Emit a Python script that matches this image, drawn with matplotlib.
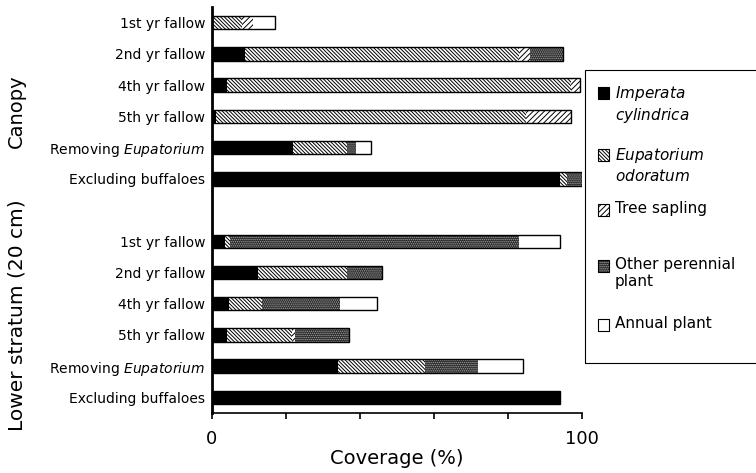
import matplotlib
matplotlib.use('Agg')
import matplotlib.pyplot as plt
from matplotlib.patches import Rectangle
import numpy as np

plt.rcParams['font.family'] = ['DejaVu Sans']
plt.rcParams['hatch.linewidth'] = 0.7

categories = ['1st yr fallow', '2nd yr fallow', '4th yr fallow', '5th yr fallow',
              'Removing $\\it{Eupatorium}$', 'Excluding buffaloes']

# canopy layer (% coverage)
imperata_c = [0, 9, 4, 1, 22, 94]
eupat_c = [8, 74, 93, 84, 14.5, 2]
tree_c = [3, 3, 2.5, 12, 0, 0]
other_c = [0, 9, 0, 0, 2.5, 4]
annual_c = [6, 0, 0, 0, 4, 0]

# lower stratum (20 cm)
imperata_l = [3.5, 12.5, 4.5, 4, 34, 94]
eupat_l = [1.5, 24, 9, 17.5, 23.5, 0]
tree_l = [0, 0, 0, 1, 0, 0]
other_l = [78, 9.5, 21, 14.5, 14.5, 0]
annual_l = [11, 0, 10, 0, 12, 0]

legend_labels = ['$\\it{Imperata}$\n$\\it{cylindrica}$', '$\\it{Eupatorium}$\n$\\it{odoratum}$',
                 'Tree sapling', 'Other perennial\nplant', 'Annual plant']

# (facecolor, hatch, hatch colour)
styles = [('black', None, 'black'),
          ('white', '\\' * 9, 'black'),
          ('white', '/' * 6, 'black'),
          ('0.15', '.' * 8, '0.65'),
          ('white', None, 'black')]

fig = plt.figure(figsize=(7.56, 4.73), dpi=100)
ax = fig.add_axes([0.2804, 0.127, 0.4894, 0.858])

pos_c = np.arange(0, 6)
pos_l = np.arange(7, 13)
h = 0.43

for pos, series in [(pos_c, [imperata_c, eupat_c, tree_c, other_c, annual_c]),
                    (pos_l, [imperata_l, eupat_l, tree_l, other_l, annual_l])]:
    left = np.zeros(6)
    for vals, (fc, hatch, hc) in zip(series, styles):
        vals = np.array(vals, dtype=float)
        ax.barh(pos, vals, left=left, height=h, color=fc, hatch=hatch,
                edgecolor=hc, linewidth=0)
        left = left + vals
    ax.barh(pos, left, height=h, fill=False, edgecolor='black', linewidth=1.0)

ax.set_xlim(0, 100)
ax.set_ylim(12.5, -0.5)
ax.set_yticks(list(pos_c) + list(pos_l))
ax.set_yticklabels(categories + categories, fontsize=10)
ax.tick_params(axis='y', length=0, pad=5)
ax.set_xticks(np.arange(0, 120, 20))
ax.set_xticklabels(['0', '', '', '', '', '100'], fontsize=13)
ax.tick_params(axis='x', direction='out', length=4, width=1.2, pad=8)
ax.spines['top'].set_visible(False)
ax.spines['right'].set_visible(False)
ax.spines['left'].set_linewidth(2)
ax.spines['bottom'].set_linewidth(1.2)
ax.set_xlabel('Coverage (%)', fontsize=14, labelpad=1)

fig.text(0.022, 0.765, 'Canopy', rotation=90, fontsize=14, ha='center', va='center')
fig.text(0.022, 0.334, 'Lower stratum (20 cm)', rotation=90, fontsize=14.5, ha='center', va='center')

# legend box drawn by hand so the swatches sit on the first text line
fig.add_artist(Rectangle((585 / 756, 1 - 363 / 473), 0.3, (363 - 70) / 473,
                         transform=fig.transFigure, fill=False, edgecolor='black',
                         linewidth=0.8, clip_on=False))
entry_y = [93, 155, 210, 266, 325]
for yy, lab, (fc, hatch, hc) in zip(entry_y, legend_labels, styles):
    yf = 1 - yy / 473
    fig.add_artist(Rectangle((598 / 756, yf - 6 / 473), 11 / 756, 12 / 473,
                             transform=fig.transFigure, facecolor=fc, hatch=hatch,
                             edgecolor=hc, linewidth=0))
    fig.add_artist(Rectangle((598 / 756, yf - 6 / 473), 11 / 756, 12 / 473,
                             transform=fig.transFigure, fill=False, edgecolor='black',
                             linewidth=0.8))
    fig.text(615 / 756, yf + 9 / 473, lab, fontsize=11, ha='left', va='top',
             linespacing=1.2)

plt.savefig('out.png', dpi=100)
plt.close()
